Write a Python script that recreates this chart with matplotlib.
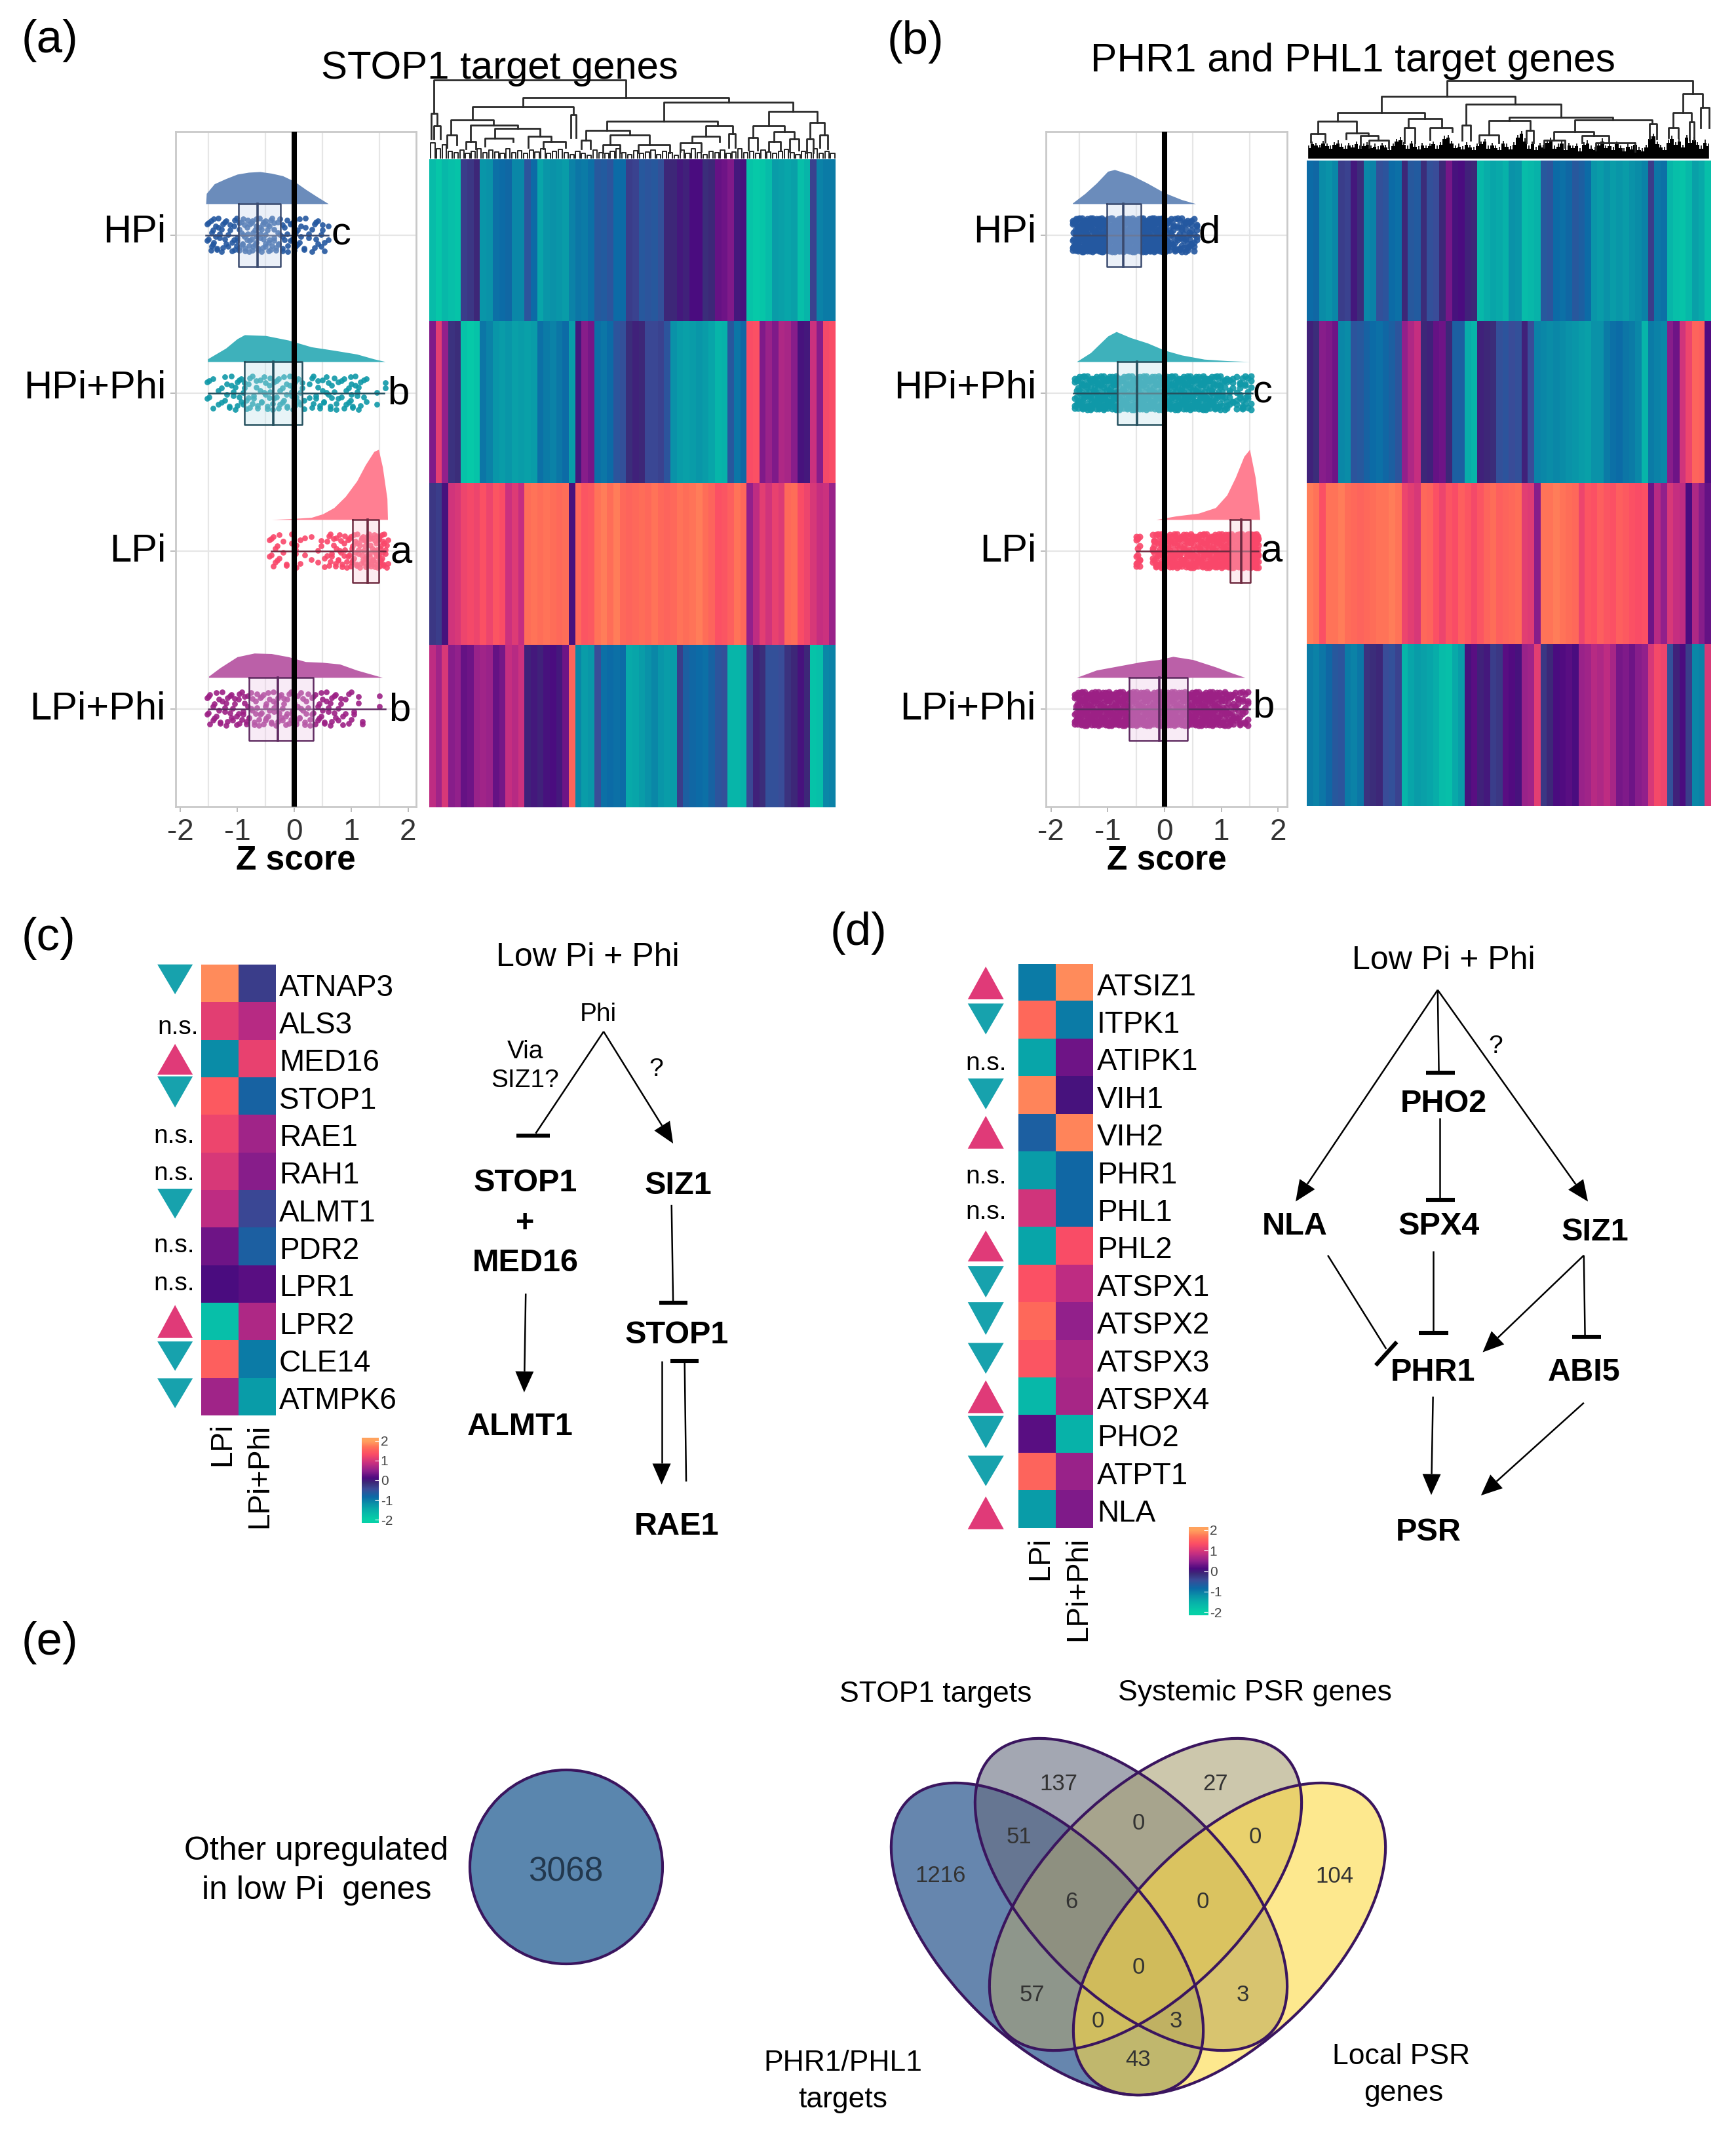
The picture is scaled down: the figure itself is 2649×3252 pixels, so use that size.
import matplotlib
matplotlib.use("Agg")
import matplotlib.pyplot as plt
import numpy as np
from matplotlib.colors import LinearSegmentedColormap
from matplotlib.patches import Ellipse, Polygon

plt.rcParams['font.family'] = ['Liberation Sans', 'DejaVu Sans']
W, H = 2649, 3252
DPI = 200

# ---------- data ----------
CONDITIONS = ['HPi', 'HPi+Phi', 'LPi', 'LPi+Phi']
CLD_A = ['c', 'b', 'a', 'b']
CLD_B = ['d', 'c', 'a', 'b']
Z_TICKS = [-2, -1, 0, 1, 2]

BOX_A = [(-1.55, -0.98, -0.64, -0.24, 0.60), (-1.50, -0.87, -0.37, 0.14, 1.58),
         (-0.40, 1.03, 1.29, 1.49, 1.60), (-1.50, -0.79, -0.29, 0.34, 1.60)]
BOX_B = [(-1.60, -1.02, -0.73, -0.41, 0.60), (-1.60, -0.83, -0.49, 0.01, 1.55),
         (-0.50, 1.15, 1.35, 1.51, 1.65), (-1.60, -0.62, -0.09, 0.41, 1.50)]

DENS_A_X = [[-1.55, -1.54, -1.4, -1.2, -1.0, -0.8, -0.6, -0.4, -0.2, 0.0, 0.2, 0.4, 0.6],
            [-1.52, -1.2, -1.0, -0.87, -0.5, -0.1, 0.3, 0.7, 1.1, 1.4, 1.6],
            [-0.40, 0.0, 0.3, 0.5, 0.7, 0.9, 1.1, 1.25, 1.4, 1.48, 1.55, 1.63, 1.64],
            [-1.5, -1.3, -1.0, -0.7, -0.4, -0.1, 0.2, 0.5, 0.8, 1.1, 1.4, 1.55]]
DENS_A_Y = [[0.0, 0.32, 0.62, 0.78, 0.92, 0.98, 1.0, 0.95, 0.87, 0.70, 0.45, 0.22, 0.0],
            [0.1, 0.50, 0.85, 1.0, 0.97, 0.80, 0.55, 0.42, 0.28, 0.10, 0.0],
            [0.0, 0.015, 0.03, 0.08, 0.17, 0.33, 0.55, 0.78, 0.97, 1.0, 0.75, 0.30, 0.0],
            [0.05, 0.40, 0.85, 1.0, 0.98, 0.85, 0.65, 0.62, 0.55, 0.30, 0.10, 0.0]]
DENS_B_X = [[-1.62, -1.4, -1.2, -1.0, -0.88, -0.6, -0.3, 0.0, 0.3, 0.55],
            [-1.55, -1.3, -1.0, -0.85, -0.6, -0.3, 0.0, 0.3, 0.7, 1.1, 1.5],
            [-0.15, 0.2, 0.6, 0.9, 1.1, 1.25, 1.4, 1.5, 1.6, 1.67, 1.68],
            [-1.55, -1.2, -0.8, -0.4, -0.1, 0.15, 0.5, 0.9, 1.2, 1.42]]
DENS_B_Y = [[0.02, 0.30, 0.60, 0.95, 1.0, 0.85, 0.60, 0.32, 0.12, 0.0],
            [0.0, 0.30, 0.85, 1.0, 0.80, 0.62, 0.38, 0.22, 0.08, 0.03, 0.0],
            [0.0, 0.05, 0.09, 0.17, 0.35, 0.60, 0.90, 1.0, 0.60, 0.12, 0.0],
            [0.0, 0.35, 0.55, 0.75, 0.85, 1.0, 0.85, 0.50, 0.20, 0.0]]

JITTER = [0.31, -0.72, 0.88, -0.15, 0.54, -0.93, 0.07, 0.76, -0.46, -0.08, 0.95, -0.63, 0.22,
          -0.84, 0.63, -0.29, 0.41, -0.55, 0.82, -0.98, 0.13, -0.36, 0.70, -0.77, 0.48,
          -0.04, -0.60, 0.92, 0.27, -0.88, 0.59]

POINTS_A = [
 [-1.53, -1.5, -1.46, -1.45, -1.42, -1.41, -1.38, -1.36, -1.33, -1.31, -1.27, -1.25, -1.22, -1.2, -1.16,
  -1.12, -1.09, -1.06, -1.05, -1.01, -1.0, -0.97, -0.96, -0.93, -0.91, -0.9, -0.87, -0.86, -0.83, -0.82,
  -0.79, -0.78, -0.75, -0.73, -0.72, -0.69, -0.67, -0.66, -0.63, -0.61, -0.6, -0.57, -0.55, -0.54, -0.51,
  -0.5, -0.47, -0.45, -0.44, -0.41, -0.39, -0.36, -0.35, -0.32, -0.29, -0.27, -0.25, -0.21, -0.2, -0.17,
  -0.13, -0.11, -0.07, -0.03, 0.0, 0.02, 0.06, 0.09, 0.12, 0.17, 0.2, 0.25, 0.31, 0.36, 0.38, 0.42, 0.47,
  0.5, 0.53, 0.6],
 [-1.53, -1.49, -1.42, -1.33, -1.28, -1.22, -1.18, -1.14, -1.1, -1.07, -1.03, -1.0, -0.97, -0.93, -0.9,
  -0.87, -0.84, -0.8, -0.78, -0.74, -0.71, -0.67, -0.64, -0.6, -0.57, -0.53, -0.5, -0.47, -0.44, -0.42,
  -0.38, -0.35, -0.31, -0.28, -0.25, -0.21, -0.18, -0.14, -0.12, -0.08, -0.05, -0.02, 0.01, 0.04, 0.07,
  0.1, 0.14, 0.17, 0.27, 0.31, 0.34, 0.38, 0.41, 0.45, 0.49, 0.52, 0.56, 0.6, 0.63, 0.66, 0.7, 0.74, 0.77,
  0.83, 0.87, 0.91, 0.95, 0.99, 1.0, 1.03, 1.07, 1.1, 1.13, 1.16, 1.22, 1.27, 1.45, 1.6],
 [-0.44, -0.4, -0.37, -0.33, -0.3, -0.26, -0.19, -0.14, -0.05, 0.02, 0.03, 0.1, 0.19, 0.3, 0.42, 0.47, 0.53,
  0.58, 0.61, 0.63, 0.66, 0.69, 0.72, 0.74, 0.77, 0.79, 0.82, 0.84, 0.87, 0.89, 0.92, 0.94, 0.97, 0.99, 1.01,
  1.03, 1.05, 1.07, 1.09, 1.11, 1.13, 1.15, 1.17, 1.19, 1.21, 1.22, 1.24, 1.26, 1.27, 1.29, 1.31, 1.32, 1.34,
  1.35, 1.37, 1.38, 1.4, 1.41, 1.42, 1.44, 1.45, 1.46, 1.47, 1.49, 1.5, 1.51, 1.52, 1.54, 1.55, 1.56, 1.58,
  1.6, 1.62, 1.64],
 [-1.53, -1.5, -1.48, -1.43, -1.4, -1.37, -1.32, -1.3, -1.26, -1.22, -1.2, -1.17, -1.13, -1.1, -1.08, -1.04,
  -1.01, -0.98, -0.96, -0.92, -0.9, -0.87, -0.84, -0.81, -0.79, -0.76, -0.73, -0.7, -0.68, -0.65, -0.62, -0.6,
  -0.57, -0.54, -0.51, -0.49, -0.46, -0.43, -0.4, -0.37, -0.35, -0.32, -0.29, -0.26, -0.23, -0.2, -0.18, -0.15,
  -0.12, -0.09, -0.06, -0.03, 0.0, 0.03, 0.06, 0.09, 0.12, 0.15, 0.18, 0.21, 0.24, 0.28, 0.31, 0.34, 0.37, 0.41,
  0.44, 0.47, 0.5, 0.53, 0.56, 0.6, 0.63, 0.66, 0.7, 0.73, 0.77, 0.82, 0.85, 0.9, 0.96, 1.0, 1.05, 1.13, 1.2, 1.5],
]
POINTS_B = [
 [-1.62, -1.6, -1.57, -1.56, -1.53, -1.52, -1.5, -1.48, -1.46, -1.45, -1.43, -1.41, -1.39, -1.38, -1.36, -1.34,
  -1.32, -1.3, -1.29, -1.27, -1.25, -1.23, -1.22, -1.2, -1.18, -1.16, -1.15, -1.13, -1.11, -1.09, -1.08, -1.06,
  -1.04, -1.02, -1.01, -0.99, -0.97, -0.95, -0.94, -0.92, -0.9, -0.88, -0.87, -0.85, -0.83, -0.81, -0.8, -0.78,
  -0.76, -0.74, -0.73, -0.71, -0.69, -0.67, -0.66, -0.64, -0.62, -0.6, -0.59, -0.57, -0.55, -0.53, -0.52, -0.5,
  -0.48, -0.46, -0.45, -0.43, -0.41, -0.39, -0.38, -0.36, -0.34, -0.32, -0.31, -0.29, -0.27, -0.25, -0.24, -0.22,
  -0.2, -0.18, -0.17, -0.15, -0.13, -0.11, -0.1, -0.08, -0.06, -0.04, -0.03, -0.01, 0.01, 0.03, 0.05, 0.08, 0.12,
  0.15, 0.19, 0.23, 0.27, 0.3, 0.34, 0.37, 0.4, 0.44, 0.47, 0.52, 0.57],
 [-1.58, -1.55, -1.52, -1.5, -1.47, -1.44, -1.42, -1.39, -1.36, -1.33, -1.31, -1.28, -1.25, -1.23, -1.2, -1.18,
  -1.15, -1.12, -1.1, -1.07, -1.05, -1.02, -1.0, -0.97, -0.95, -0.92, -0.9, -0.87, -0.85, -0.83, -0.8, -0.78,
  -0.75, -0.73, -0.71, -0.68, -0.66, -0.63, -0.61, -0.58, -0.56, -0.54, -0.51, -0.49, -0.46, -0.44, -0.42, -0.39,
  -0.37, -0.34, -0.32, -0.29, -0.27, -0.24, -0.22, -0.2, -0.17, -0.15, -0.12, -0.1, -0.07, -0.05, -0.02, 0.0,
  0.03, 0.05, 0.08, 0.1, 0.13, 0.15, 0.18, 0.2, 0.23, 0.25, 0.28, 0.3, 0.33, 0.35, 0.38, 0.4, 0.43, 0.45, 0.48,
  0.5, 0.53, 0.55, 0.58, 0.6, 0.63, 0.65, 0.68, 0.7, 0.73, 0.75, 0.78, 0.8, 0.83, 0.86, 0.89, 0.92, 0.95, 0.98,
  1.02, 1.06, 1.1, 1.14, 1.2, 1.27, 1.33, 1.38, 1.42, 1.47, 1.52],
 [-0.5, -0.47, -0.44, -0.21, -0.18, -0.15, -0.12, -0.09, -0.06, -0.03, -0.02, 0.01, 0.03, 0.06, 0.09, 0.11, 0.14,
  0.17, 0.19, 0.22, 0.25, 0.27, 0.3, 0.33, 0.35, 0.38, 0.41, 0.43, 0.46, 0.49, 0.51, 0.54, 0.57, 0.59, 0.62, 0.64,
  0.67, 0.69, 0.72, 0.74, 0.77, 0.79, 0.82, 0.84, 0.86, 0.89, 0.91, 0.93, 0.96, 0.98, 1.0, 1.02, 1.04, 1.06, 1.08,
  1.1, 1.12, 1.14, 1.16, 1.18, 1.2, 1.21, 1.23, 1.25, 1.27, 1.28, 1.3, 1.31, 1.33, 1.35, 1.36, 1.38, 1.39, 1.4,
  1.42, 1.43, 1.45, 1.46, 1.47, 1.48, 1.5, 1.51, 1.52, 1.53, 1.55, 1.56, 1.57, 1.58, 1.6, 1.61, 1.62, 1.64, 1.65],
 [-1.58, -1.56, -1.54, -1.52, -1.5, -1.47, -1.45, -1.43, -1.41, -1.39, -1.37, -1.35, -1.33, -1.3, -1.28, -1.26,
  -1.24, -1.22, -1.2, -1.17, -1.15, -1.13, -1.11, -1.09, -1.07, -1.04, -1.02, -1.0, -0.98, -0.96, -0.94, -0.91,
  -0.89, -0.87, -0.85, -0.83, -0.81, -0.78, -0.76, -0.74, -0.72, -0.7, -0.68, -0.65, -0.63, -0.61, -0.59, -0.57,
  -0.55, -0.52, -0.5, -0.48, -0.46, -0.44, -0.42, -0.39, -0.37, -0.35, -0.33, -0.31, -0.29, -0.26, -0.24, -0.22,
  -0.2, -0.18, -0.16, -0.13, -0.11, -0.09, -0.07, -0.05, -0.03, 0.0, 0.02, 0.04, 0.06, 0.08, 0.1, 0.13, 0.15,
  0.17, 0.19, 0.21, 0.23, 0.26, 0.28, 0.3, 0.32, 0.34, 0.36, 0.39, 0.41, 0.43, 0.45, 0.47, 0.49, 0.52, 0.54, 0.56,
  0.58, 0.6, 0.62, 0.65, 0.67, 0.69, 0.71, 0.73, 0.75, 0.78, 0.8, 0.82, 0.84, 0.86, 0.88, 0.91, 0.93, 0.95, 0.97,
  1.0, 1.03, 1.06, 1.09, 1.12, 1.15, 1.18, 1.21, 1.25, 1.29, 1.33, 1.37, 1.42, 1.47],
]

HEAT_A = [
 [-1.7, -1.85, -1.65, -1.75, -1.8, -0.3, -0.25, -0.1, -1.25, -1.2, -0.9, -0.85, -0.8, -1.1, -1.1, -0.55, -0.85,
  -1.4, -1.25, -1.2, -1.25, -1.3, -1.05, -0.95, -1.0, -0.9, -0.6, -0.65, -0.55, -0.85, -0.85, -0.3, -0.35, -0.6,
  -0.55, -0.6, -0.5, -0.1, -0.1, 0.0, -0.05, 0.1, 0.1, -0.15, -0.1, 0.25, 0.3, 0.4, 0.0, 0.05, -1.8, -1.9, -1.85,
  -1.7, -1.3, -1.35, -1.4, -1.35, -1.75, -1.6, -0.35, -1.05, -1.0, -1.0],
 [0.4, 1.1, 0.5, -0.2, -0.15, -1.8, -1.9, -1.8, -0.95, -1.05, -1.25, -1.3, -1.25, -1.35, -1.3, -1.35, -1.3, -0.9,
  -1.0, -1.05, -0.95, -0.85, -1.3, 0.0, 0.45, 0.35, -0.9, -0.95, -0.85, -0.55, -0.5, -0.15, -0.05, -0.1, -0.4,
  -0.4, -0.35, -0.55, -1.2, -1.3, -1.35, -1.3, -1.25, -1.3, -1.4, -1.6, -1.55, -0.6, -0.95, -0.8, 1.3, 1.35, 0.4,
  0.55, 0.4, 0.7, 0.65, 0.45, 0.05, 0.0, 0.9, 0.45, 1.25, 1.3],
 [-0.25, -0.3, 0.05, 0.95, 1.0, 1.2, 1.25, 1.2, 1.35, 1.2, 1.4, 1.3, 0.9, 1.05, 0.85, 1.65, 1.7, 1.65, 1.7, 1.65,
  1.6, 1.65, 0.05, 1.6, 1.4, 1.45, 1.7, 1.75, 1.65, 1.75, 1.6, 1.55, 1.6, 1.65, 1.6, 1.7, 1.6, 1.55, 1.6, 1.7,
  1.65, 1.7, 1.75, 1.65, 1.55, 1.35, 1.4, 1.5, 1.7, 1.6, 0.5, 0.8, 1.1, 0.95, 1.15, 1.05, 1.6, 1.65, 1.3, 1.2,
  1.0, 0.85, 0.9, 0.55],
 [0.8, 0.6, 1.0, 0.45, 0.5, 0.25, 0.3, 0.55, 0.6, 0.55, 0.25, 0.35, 0.85, 0.75, 0.9, -0.05, 0.0, -0.05, 0.05, 0.1,
  0.0, 0.3, 1.55, -1.1, -1.3, -1.25, -0.45, -0.9, -0.85, -0.9, -0.85, -1.45, -1.4, -1.3, -1.2, -1.1, -1.25, -1.3,
  -1.3, -0.3, -0.7, -0.8, -0.85, -0.9, -0.75, -0.55, -0.5, -1.6, -1.6, -1.55, -0.4, -0.05, -0.15, -0.5, -0.5,
  -0.45, -0.2, -0.1, 0.05, -0.1, -1.8, -1.75, -1.1, -1.05],
]
HEAT_B = [
 [-0.85, -0.8, -1.15, -1.2, -1.1, -0.3, -0.35, 0.0, -0.15, -1.1, -1.05, -0.5, -0.55, -0.85, -0.9, -0.1, -0.6,
  -0.65, -0.15, -0.5, -0.45, -0.1, 0.35, 0.05, 0.1, -0.05, -0.1, -1.65, -1.5, -1.4, -1.45, -1.55, -1.2, -1.25,
  -1.7, -1.65, -1.55, -0.6, -0.55, -0.85, -0.9, -0.8, -0.6, -0.7, -0.85, -1.25, -1.3, -1.2, -1.3, -1.25, -1.3,
  -1.2, -1.15, -1.05, -0.3, -0.95, -0.9, -1.6, -1.75, -1.8, -1.65, -1.35, -1.45, -1.75],
 [-0.05, -0.15, 0.45, 0.4, 0.3, -1.1, -1.15, -0.55, -0.6, -0.75, -0.85, -0.9, -0.8, -0.7, -0.55, 0.5, 0.7, 0.85,
  -0.1, -0.05, 0.25, 0.3, -0.1, -0.7, -0.7, -1.5, -1.6, -0.05, -0.1, -0.15, -0.5, -0.55, -0.45, -0.5, -0.05, -0.45,
  -1.05, -1.1, -1.15, -1.1, -1.15, -1.2, -1.25, -1.3, -1.35, -1.2, -1.2, -1.0, -0.9, -0.85, -0.95, -1.0, -1.1,
  -1.6, -1.0, -1.05, -1.1, 0.45, 0.3, 0.95, 1.2, 1.55, 1.5, 0.15],
 [1.75, 1.7, 1.35, 1.7, 1.7, 1.75, 1.65, 1.6, 1.55, 1.6, 1.65, 1.7, 1.7, 1.75, 1.7, 1.2, 1.1, 1.0, 1.6, 1.55, 1.35,
  1.2, 1.4, 1.3, 1.5, 1.4, 1.25, 1.4, 1.55, 1.65, 1.5, 1.55, 1.6, 1.65, 1.1, 1.05, 0.45, 1.7, 1.7, 1.75, 1.7, 1.65,
  1.6, 1.2, 1.4, 1.35, 1.5, 1.4, 1.35, 1.5, 1.45, 1.35, 1.3, 1.35, 0.3, 0.75, 0.5, 1.0, 0.85, 0.8, 0.1, 0.7, 0.45, 0.25],
 [-1.0, -1.05, -0.95, -0.8, -0.6, -0.55, -1.0, -1.05, -0.95, -0.2, -0.15, -0.1, -0.45, -0.5, -0.35, -1.6, -1.4, -1.3,
  -1.35, -1.4, -1.5, -1.7, -1.75, -1.45, -1.3, 0.05, 0.2, -0.05, 0.0, -0.3, -0.25, 0.2, 0.15, 0.05, 0.55, 0.6, 1.1,
  -0.25, -0.1, 0.1, 0.15, 0.2, 0.1, 0.55, 0.6, 0.75, 0.7, 0.8, 0.65, 0.35, 0.4, 0.3, 0.45, 0.5, 1.0, 1.25, 1.2, -0.5,
  -0.05, 0.1, -0.3, -1.1, -1.05, 1.0],
]

# dendrogram links: left x, right x, bar level, left drop level, right drop level
TREE_A = [(30, 758, 45, 180, 118), (368, 1148, 118, 155, 135), (175, 560, 155, 205, 185), (902, 1392, 137, 212, 172),
          (18, 42, 180, 285, 232), (30, 55, 232, 285, 285), (93, 255, 207, 268, 228), (168, 347, 228, 295, 243),
          (260, 433, 243, 283, 275), (222, 330, 283, 315, 295), (388, 475, 275, 320, 295), (78, 115, 270, 320, 310),
          (548, 568, 187, 280, 280), (687, 1108, 212, 250, 232), (606, 773, 250, 290, 270), (698, 848, 270, 310, 310),
          (1062, 1163, 232, 275, 265), (1010, 1115, 275, 300, 295), (1148, 1175, 265, 320, 320),
          (1302, 1486, 172, 232, 218), (1242, 1360, 232, 280, 255), (1322, 1398, 255, 295, 285),
          (1457, 1512, 218, 285, 268), (590, 625, 290, 325, 325), (670, 735, 310, 340, 340), (805, 925, 310, 340, 340),
          (965, 1045, 300, 335, 335), (445, 530, 295, 325, 320), (150, 188, 295, 325, 325), (1225, 1258, 280, 330, 330),
          (1300, 1345, 295, 335, 330), (1380, 1415, 285, 335, 330), (1445, 1470, 285, 340, 340), (1495, 1525, 268, 320, 325)]
TREE_B = [(560, 1500, 48, 112, 100), (308, 820, 112, 178, 145), (633, 995, 145, 230, 197), (140, 475, 178, 213, 203),
          (65, 213, 213, 265, 262), (410, 538, 203, 240, 240), (797, 1195, 197, 210, 208), (720, 878, 210, 268, 250),
          (1048, 1345, 208, 257, 225), (967, 1122, 257, 290, 272), (1075, 1178, 272, 300, 300), (38, 92, 265, 298, 298),
          (172, 258, 262, 285, 272), (228, 295, 272, 320, 290), (395, 435, 240, 300, 300), (495, 580, 240, 288, 255),
          (618, 650, 230, 290, 290), (683, 758, 268, 300, 300), (862, 890, 250, 300, 300), (1462, 1537, 100, 178, 158),
          (1425, 1495, 178, 240, 215), (1408, 1445, 240, 280, 280), (1487, 1505, 215, 290, 290), (1530, 1562, 158, 240, 240),
          (1335, 1362, 225, 285, 285), (930, 1010, 290, 320, 320), (1130, 1280, 300, 330, 335), (260, 335, 290, 320, 320)]
LEAF_A = [300, 325, 310, 335, 340, 330, 345, 335, 325, 342, 330, 338, 345, 325, 340, 332, 345, 330, 338, 325, 345, 335,
          328, 342, 350, 335, 345, 352, 330, 340, 345, 335, 325, 340, 350, 332, 345, 338, 330, 348, 335, 342, 352, 330,
          345, 325, 340, 348, 335, 342, 330, 345, 338, 325, 342, 335, 345, 330, 338, 345, 335, 328, 342, 350, 335, 340,
          325, 345, 335, 345]
LEAF_B = [323, 307, 313, 320, 305, 315, 325, 310, 303, 317, 325, 313, 320, 307, 325, 315, 310, 323, 317, 327, 313, 321,
          330, 315, 297, 290, 310, 325, 305, 317, 327, 313, 323, 315, 307, 325, 310, 285, 280, 305, 323, 317, 327, 310,
          320, 330, 315, 307, 297, 325, 313, 323, 330, 305, 317, 327, 310, 280, 265, 295, 325, 307, 330, 313, 321, 300,
          293, 325, 317, 305, 330, 313, 323, 315, 335, 310, 303, 325, 330, 313, 295, 323, 315, 330, 307, 323, 335, 317,
          327, 310, 330, 335, 320, 285, 275, 307, 320, 330, 300, 285, 310, 295, 320, 280, 300, 290, 310, 325, 300, 315]

GENES_C = ['ATNAP3', 'ALS3', 'MED16', 'STOP1', 'RAE1', 'RAH1', 'ALMT1', 'PDR2', 'LPR1', 'LPR2', 'CLE14', 'ATMPK6']
LPI_C = [1.85, 1.1, -1.15, 1.45, 1.2, 1.0, 0.8, 0.3, 0.1, -1.75, 1.5, 0.6]
LPIPHI_C = [-0.3, 0.75, 1.15, -0.75, 0.6, 0.45, -0.4, -0.7, 0.2, 0.7, -1.0, -1.3]
GENES_D = ['ATSIZ1', 'ITPK1', 'ATIPK1', 'VIH1', 'VIH2', 'PHR1', 'PHL1', 'PHL2', 'ATSPX1', 'ATSPX2', 'ATSPX3',
           'ATSPX4', 'PHO2', 'ATPT1', 'NLA']
LPI_D = [-1.0, 1.6, -1.4, 1.8, -0.7, -1.3, 0.95, -1.4, 1.35, 1.6, 1.4, -1.65, 0.2, 1.55, -1.3]
LPIPHI_D = [1.85, -1.0, 0.3, 0.05, 1.8, -0.8, -0.8, 1.3, 0.8, 0.5, 0.7, 0.65, -1.55, 0.55, 0.4]
HEAT_COLS = ['LPi', 'LPi+Phi']
CBAR_TICKS = [2, 1, 0, -1, -2]

VENN_SOLO = '3068'
VENN_NUMBERS = ['137', '27', '0', '51', '0', '1216', '104', '6', '0', '0', '57', '3', '0', '3', '43']

# ---------- style ----------
CMAP = LinearSegmentedColormap.from_list('z', [
    (0.0, '#06d0a8'), (0.12, '#08b0aa'), (0.2, '#0a92a8'), (0.29, '#0d6aa6'), (0.39, '#3a4c98'), (0.47, '#3c2a78'),
    (0.53, '#4c0a80'), (0.62, '#8e1f8c'), (0.72, '#c93080'), (0.83, '#fb4d66'), (0.92, '#ff7058'), (1.0, '#ffa25e')])
POINT_COL = ['#2458a0', '#0f98a8', '#f9476a', '#9c2085']
DENS_COL = ['#6b8cbb', '#3eb1bb', '#ff7f92', '#bb60a8']
BOX_COL = ['#3a4a6e', '#25505e', '#6e2a40', '#5e2a60']
FILL_COL = ['#c8d6ec', '#bfe2ea', '#fbcbd6', '#ecc8e8']
PEAK_A = [0.203, 0.17, 0.444, 0.154]
PEAK_B = [0.216, 0.19, 0.444, 0.133]


def axpx(x0, y0, x1, y1, **kw):
    return fig.add_axes([x0 / W, 1 - y1 / H, (x1 - x0) / W, (y1 - y0) / H], **kw)


fig = plt.figure(figsize=(W / DPI, H / DPI), dpi=DPI, facecolor='white')


def raincloud(box, xlim, boxes, dx, dy, pts, peaks, msize, passes):
    ax = axpx(*box)
    ax.set_xlim(*xlim)
    ax.set_ylim(3.618, -0.656)
    for sp in ax.spines.values():
        sp.set_color('#c9c9c9')
        sp.set_linewidth(1.0)
    ax.set_xticks(np.arange(-2, 2.01, 0.5), minor=True)
    ax.grid(True, which='minor', axis='x', color='#e6e6e6', lw=0.8)
    ax.set_yticks(range(4))
    ax.set_yticklabels([])
    ax.grid(True, which='major', axis='y', color='#e6e6e6', lw=0.8)
    ax.tick_params(axis='y', length=3, color='#bbbbbb', width=0.7)
    ax.tick_params(axis='x', which='minor', length=0)
    ax.set_xticks(Z_TICKS)
    ax.set_xticklabels([str(t) for t in Z_TICKS], fontsize=16.5, color='#333333')
    ax.tick_params(axis='x', length=3, color='#bbbbbb', width=0.7, pad=3)
    ax.set_xlabel('Z score', fontsize=18.5, fontweight='bold', labelpad=-1)
    ax.set_axisbelow(True)
    for i in range(4):
        ax.fill_between(dx[i], i - 0.2, i - 0.2 - peaks[i] * np.array(dy[i]), color=DENS_COL[i], lw=0, zorder=2)
        xs = np.array(pts[i])
        for p in range(passes):
            js = np.array([JITTER[(k + p * 11) % len(JITTER)] for k in range(len(xs))])
            ax.scatter(xs, i + 0.11 * js, s=msize, color=POINT_COL[i], alpha=0.9, lw=0, zorder=3)
        lo, q1, med, q3, hi = boxes[i]
        ax.plot([lo, hi], [i, i], color=BOX_COL[i], lw=0.9, zorder=4)
        ax.fill_between([q1, q3], i - 0.2, i + 0.2, color=FILL_COL[i], alpha=0.35, lw=0, zorder=4)
        ax.plot([q1, q3, q3, q1, q1], [i - 0.2, i - 0.2, i + 0.2, i + 0.2, i - 0.2], color=BOX_COL[i], lw=0.9, zorder=5)
        ax.plot([med, med], [i - 0.2, i + 0.2], color=BOX_COL[i], lw=1.3, zorder=5)
    ax.axvline(0, color='black', lw=2.9, zorder=6)


raincloud((268, 201, 635, 1231), (-2.08, 2.14), BOX_A, DENS_A_X, DENS_A_Y, POINTS_A, PEAK_A, 10, 2)
raincloud((1596, 201, 1964, 1231), (-2.09, 2.16), BOX_B, DENS_B_X, DENS_B_Y, POINTS_B, PEAK_B, 13, 5)


def heat(box, rows):
    ax = axpx(*box)
    ax.imshow(np.array(rows), cmap=CMAP, vmin=-2, vmax=2, aspect='auto', interpolation='nearest')
    ax.axis('off')


heat((655, 243, 1275, 1232), HEAT_A)
heat((1994, 245, 2610, 1230), HEAT_B)


def dendro(box, xlim, tree, leaves, dense):
    ax = axpx(*box)
    ax.set_xlim(*xlim)
    ax.set_ylim(365, 40)
    ax.axis('off')
    w = (xlim[1] - xlim[0]) / len(leaves)
    lx = [xlim[0] + (k + 0.5) * w for k in range(len(leaves))]
    if dense:
        ax.fill_between(lx, 365, leaves, step='mid', color='black', lw=0)
        ax.vlines(lx, 365, np.array(leaves) - 12, color='black', lw=0.6)
    else:
        for k, (x, top) in enumerate(zip(lx, leaves)):
            ax.plot([x - w * 0.35, x - w * 0.35, x + w * 0.35, x + w * 0.35], [365, top, top, 365], color='#222222', lw=0.7)
    for l, r, y, dl, dr in tree:
        ax.plot([l, l, r, r], [dl, y, y, dr], color='#2a2a2a', lw=1.0)


dendro((656, 120, 1275, 242), (14, 1555), TREE_A, LEAF_A, False)
dendro((1994, 120, 2610, 242), (22, 1568), TREE_B, LEAF_B, True)


def small_heat(box, a, b):
    ax = axpx(*box)
    ax.imshow(np.array([a, b]).T, cmap=CMAP, vmin=-2, vmax=2, aspect='auto', interpolation='nearest')
    ax.axis('off')


small_heat((307, 1472, 421, 2160), LPI_C, LPIPHI_C)
small_heat((1554, 1471, 1668, 2332), LPI_D, LPIPHI_D)


def cbar(box, fs):
    ax = axpx(*box)
    ax.imshow(np.linspace(2.15, -2.15, 256)[:, None], cmap=CMAP, vmin=-2, vmax=2, aspect='auto',
              extent=(0, 1, -2.15, 2.15))
    ax.set_xticks([])
    ax.yaxis.tick_right()
    ax.set_yticks(CBAR_TICKS)
    ax.set_yticklabels([str(t) for t in CBAR_TICKS], fontsize=fs, color='#444444')
    ax.tick_params(axis='y', length=2, width=0.4, color='white', direction='in', pad=1)
    for sp in ax.spines.values():
        sp.set_visible(False)


cbar((552, 2194, 578, 2324), 7.5)
cbar((1814, 2330, 1843, 2465), 7.5)

# ---------- overlay in figure pixels ----------
ov = fig.add_axes([0, 0, 1, 1], zorder=20)
ov.set_xlim(0, W)
ov.set_ylim(H, 0)
ov.axis('off')
ov.patch.set_alpha(0)


def T(x, y, s, size=16, weight='normal', ha='center', va='center', color='black', rot=0):
    ov.text(x, y + 4, s, fontsize=size, fontweight=weight, ha=ha, va=va, color=color, rotation=rot)


def line(p, q, lw=0.9):
    ov.plot([p[0], q[0]], [p[1], q[1]], color='black', lw=lw, solid_capstyle='butt')


def tbar(p, q, lw=2.2):
    line(p, q, lw)


def arrow(p, q, L=32, hw=14):
    p = np.array(p, float)
    q = np.array(q, float)
    d = (q - p) / np.hypot(*(q - p))
    n = np.array([-d[1], d[0]])
    base = q - d * L
    line(p, base)
    ov.add_patch(Polygon([q, base + n * hw, base - n * hw], closed=True, fc='black', ec='none'))


def tri(x, y0, y1, hw, up):
    col = '#e03a78' if up else '#17a2ad'
    pts = [(x - hw, y1), (x + hw, y1), (x, y0)] if up else [(x - hw, y0), (x + hw, y0), (x, y1)]
    ov.add_patch(Polygon(pts, closed=True, fc=col, ec='none'))


# panel letters and titles
T(76, 58, '(a)', 25.5)
T(1397, 60, '(b)', 25.5)
T(74, 1428, '(c)', 25.5)
T(1310, 1420, '(d)', 25.5)
T(76, 2503, '(e)', 25.5)
T(762, 100, 'STOP1 target genes', 21.6)
T(2064, 90, 'PHR1 and PHL1 target genes', 21.8)

# raincloud labels
for s, y in zip(CONDITIONS, (351, 588, 837, 1078)):
    T(253, y, s, 21.5, ha='right')
for s, y in zip(CONDITIONS, (351, 588, 837, 1078)):
    T(1581, y, s, 21.5, ha='right')
for s, x, y in zip(CLD_A, (520, 608, 612, 610), (354, 597, 840, 1080)):
    T(x, y, s, 21.5)
for s, x, y in zip(CLD_B, (1845, 1926, 1940, 1928), (351, 595, 838, 1075)):
    T(x, y, s, 21.5)

# panel (c)
zc = lambda x, y: (x / 1.254, 1380 + y / 1.493)
rc = (2160 - 1472) / 12
for i, g in enumerate(GENES_C):
    T(426, 1472 + rc * (i + 0.55), g, 16.5, ha='left')
T(*zc(425, 1175), HEAT_COLS[0], 16.5, rot=90, va='top')
T(*zc(497, 1178), HEAT_COLS[1], 16.5, rot=90, va='top')
TRI_C = [(137, 205, 0), (318, 388, 1), (392, 463, 0), (648, 716, 0), (913, 988, 1), (996, 1063, 0), (1080, 1148, 0)]
for a, b, up in TRI_C:
    tri(335 / 1.254, 1380 + a / 1.493, 1380 + b / 1.493, 27, up)
for x, y in [(340, 275), (333, 523), (333, 607), (333, 772), (333, 858)]:
    T(*zc(x, y), 'n.s.', 14)
T(*zc(1125, 115), 'Low Pi + Phi', 18)
T(*zc(1145, 245), 'Phi', 14)
T(*zc(1005, 330), 'Via', 14)
T(*zc(1005, 395), 'SIZ1?', 14)
T(*zc(1255, 370), '?', 14)
line(zc(1155, 290), zc(1025, 522))
tbar(zc(988, 527), zc(1052, 527))
arrow(zc(1155, 290), zc(1288, 545))
for s, x, y in [('STOP1', 1005, 630), ('+', 1005, 722), ('MED16', 1005, 812), ('SIZ1', 1298, 635),
                ('STOP1', 1295, 975), ('ALMT1', 995, 1185), ('RAE1', 1295, 1412)]:
    T(*zc(x, y), s, 17.5, 'bold')
arrow(zc(1006, 887), zc(1003, 1112))
line(zc(1285, 685), zc(1288, 905))
tbar(zc(1262, 908), zc(1315, 908))
tbar(zc(1283, 1040), zc(1337, 1040))
line(zc(1310, 1040), zc(1313, 1315))
arrow(zc(1266, 1040), zc(1266, 1322))

# panel (d)
zd = lambda x, y: (1250 + x / 1.121, 1380 + y / 1.4)
rd = (2332 - 1471) / 15
for i, g in enumerate(GENES_D):
    T(1674, 1471 + rd * (i + 0.55), g, 16.5, ha='left')
T(*zd(378, 1345), HEAT_COLS[0], 16.5, rot=90, va='top')
T(*zd(443, 1345), HEAT_COLS[1], 16.5, rot=90, va='top')
TRI_D = [(133, 203, 1), (212, 278, 0), (372, 438, 0), (452, 522, 1), (697, 763, 1), (773, 840, 0), (850, 920, 0),
         (937, 1003, 0), (1017, 1087, 1), (1093, 1162, 0), (1178, 1243, 0), (1265, 1335, 1)]
for a, b, up in TRI_D:
    tri(1250 + 285 / 1.121, 1380 + a / 1.4, 1380 + b / 1.4, 27.5, up)
for y in (335, 577, 652):
    T(*zd(285, y), 'n.s.', 14)
T(*zd(1068, 115), 'Low Pi + Phi', 18)
T(*zd(1157, 298), '?', 14)
arrow(zd(1058, 183), zd(815, 635))
line(zd(1058, 183), zd(1060, 357))
tbar(zd(1038, 360), zd(1087, 360))
arrow(zd(1058, 183), zd(1315, 635))
for s, x, y in [('PHO2', 1068, 420), ('NLA', 813, 683), ('SPX4', 1060, 682), ('SIZ1', 1327, 695), ('PHR1', 1050, 995),
                ('ABI5', 1308, 995), ('PSR', 1042, 1336)]:
    T(*zd(x, y), s, 17.5, 'bold')
line(zd(1062, 457), zd(1062, 630))
tbar(zd(1038, 632), zd(1087, 632))
line(zd(870, 750), zd(970, 950))
tbar(zd(952, 985), zd(988, 935))
line(zd(1050, 740), zd(1050, 915))
tbar(zd(1026, 916), zd(1076, 916))
arrow(zd(1308, 750), zd(1135, 957))
line(zd(1308, 750), zd(1310, 923))
tbar(zd(1288, 924), zd(1337, 924))
arrow(zd(1050, 1052), zd(1047, 1262))
arrow(zd(1308, 1065), zd(1132, 1263))

# panel (e)
ze = lambda x, y: (200 + x / 0.784, 2480 + y / 2.031)
EDGE = '#3a155e'
ov.add_patch(Ellipse((864, 2849), 294, 296, fc='#5a86ae', ec=EDGE, lw=1.5))
T(*ze(520, 757), VENN_SOLO, 18.5, color='#22384e')
T(483, 2821, 'Other upregulated', 18)
T(483, 2881, 'in low Pi  genes', 18)
VENN = [((1598, 2959), 45, '#003578'), ((1726, 2891), 45, '#666c80'), ((1748, 2891), -45, '#aaa275'), ((1876, 2959), -45, '#fdd943')]
for c, ang, col in VENN:
    ov.add_patch(Ellipse(c, 600, 306, angle=ang, fc=col, ec='none', alpha=0.6))
for c, ang, col in VENN:
    ov.add_patch(Ellipse(c, 600, 306, angle=ang, fc='none', ec=EDGE, lw=1.5))
VENN_POS = [(1110, 485), (1297, 485), (1205, 607), (1062, 648), (1345, 648), (968, 768), (1440, 770), (1125, 850),
            (1282, 850), (1205, 1053), (1078, 1138), (1330, 1138), (1157, 1220), (1250, 1220), (1205, 1340)]
for s, (x, y) in zip(VENN_NUMBERS, VENN_POS):
    T(*ze(x, y), s, 12.5, color='#333333')
T(1428, 2581, 'STOP1 targets', 16)
T(1915, 2579, 'Systemic PSR genes', 16)
T(1286, 3144, 'PHR1/PHL1', 16)
T(1286, 3200, 'targets', 16)
T(2138, 3134, 'Local PSR', 16)
T(2142, 3190, 'genes', 16)

fig.savefig('out.png', dpi=DPI, facecolor='white')
